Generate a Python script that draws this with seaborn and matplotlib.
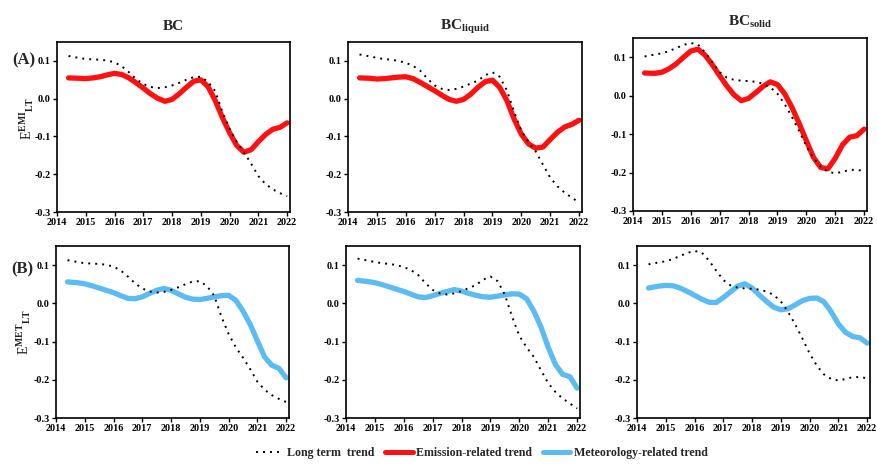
import numpy as np
import pandas as pd
import matplotlib
matplotlib.use("Agg")
import matplotlib.pyplot as plt
from matplotlib.ticker import FormatStrFormatter
from matplotlib.lines import Line2D
import seaborn as sns

# ---------------- data ----------------
years = [2014.4, 2014.75, 2015.0, 2015.25, 2015.5, 2015.75, 2016.0, 2016.25, 2016.5, 2016.75,
         2017.0, 2017.25, 2017.5, 2017.75, 2018.0, 2018.25, 2018.5, 2018.75, 2019.0, 2019.25,
         2019.5, 2019.75, 2020.0, 2020.25, 2020.5, 2020.75, 2021.0, 2021.25, 2021.5, 2021.75, 2022.0]

lt_bc = [0.113, 0.108, 0.105, 0.104, 0.103, 0.101, 0.096, 0.086, 0.070, 0.052,
         0.039, 0.031, 0.028, 0.030, 0.035, 0.042, 0.050, 0.057, 0.058, 0.045,
         0.020, -0.035, -0.080, -0.115, -0.142, -0.172, -0.205, -0.226, -0.240, -0.250, -0.258]
emi_bc = [0.055, 0.054, 0.053, 0.055, 0.058, 0.063, 0.067, 0.064, 0.055, 0.042,
          0.028, 0.013, 0.001, -0.007, -0.002, 0.013, 0.030, 0.046, 0.050, 0.032,
          -0.005, -0.050, -0.090, -0.124, -0.142, -0.135, -0.114, -0.095, -0.081, -0.076, -0.064]
met_bc = [0.056, 0.054, 0.051, 0.046, 0.040, 0.034, 0.028, 0.020, 0.013, 0.012,
          0.017, 0.026, 0.034, 0.039, 0.034, 0.025, 0.016, 0.011, 0.010, 0.013,
          0.017, 0.020, 0.021, 0.008, -0.020, -0.055, -0.098, -0.140, -0.162, -0.170, -0.195]

lt_liq = [0.117, 0.112, 0.108, 0.105, 0.103, 0.100, 0.095, 0.087, 0.074, 0.053,
          0.035, 0.026, 0.023, 0.026, 0.032, 0.040, 0.048, 0.062, 0.070, 0.058,
          0.022, -0.035, -0.085, -0.115, -0.140, -0.175, -0.209, -0.232, -0.249, -0.262, -0.275]
emi_liq = [0.055, 0.054, 0.052, 0.053, 0.055, 0.057, 0.058, 0.053, 0.043, 0.032,
           0.021, 0.009, -0.002, -0.007, -0.002, 0.012, 0.030, 0.045, 0.049, 0.030,
           -0.005, -0.054, -0.094, -0.120, -0.131, -0.128, -0.108, -0.089, -0.075, -0.068, -0.057]
met_liq = [0.060, 0.057, 0.054, 0.049, 0.043, 0.037, 0.031, 0.024, 0.017, 0.015,
           0.020, 0.026, 0.031, 0.036, 0.032, 0.026, 0.021, 0.017, 0.016, 0.019,
           0.022, 0.025, 0.024, 0.012, -0.020, -0.062, -0.115, -0.160, -0.186, -0.192, -0.222]

lt_sol = [0.102, 0.107, 0.110, 0.116, 0.124, 0.132, 0.137, 0.133, 0.112, 0.086,
          0.061, 0.047, 0.041, 0.039, 0.038, 0.036, 0.031, 0.022, 0.005, -0.022,
          -0.055, -0.092, -0.131, -0.163, -0.186, -0.198, -0.202, -0.198, -0.193, -0.193, -0.196]
emi_sol = [0.059, 0.058, 0.061, 0.070, 0.083, 0.100, 0.116, 0.121, 0.105, 0.080,
           0.052, 0.025, 0.002, -0.013, -0.007, 0.008, 0.024, 0.036, 0.029, 0.005,
           -0.030, -0.072, -0.117, -0.161, -0.187, -0.190, -0.163, -0.128, -0.108, -0.104, -0.087]
met_sol = [0.040, 0.045, 0.047, 0.046, 0.040, 0.031, 0.021, 0.011, 0.003, 0.002,
           0.015, 0.030, 0.045, 0.051, 0.040, 0.022, 0.005, -0.010, -0.017, -0.014,
           -0.004, 0.007, 0.013, 0.014, 0.004, -0.022, -0.054, -0.076, -0.087, -0.090, -0.104]

col_titles = ["BC", r"BC$_{\mathbf{liquid}}$", r"BC$_{\mathbf{solid}}$"]
row_labels = ["(A)", "(B)"]
row_ylabels = [r"E$^{\mathrm{EMI}}$$_{\mathrm{LT}}$", r"E$^{\mathrm{MET}}$$_{\mathrm{LT}}$"]
xticks = [2014, 2015, 2016, 2017, 2018, 2019, 2020, 2021, 2022]
yticks = [-0.3, -0.2, -0.1, 0.0, 0.1]
legend_labels = ["Long term  trend", "Emission-related trend", "Meteorology-related trend"]

lt_all = [lt_bc, lt_liq, lt_sol]
emi_all = [emi_bc, emi_liq, emi_sol]
met_all = [met_bc, met_liq, met_sol]

# ---------------- style ----------------
sns.set_style("ticks")
plt.rcParams['font.family'] = ['Liberation Serif', 'DejaVu Serif']
plt.rcParams['font.weight'] = 'bold'
plt.rcParams['mathtext.fontset'] = 'custom'
plt.rcParams['mathtext.rm'] = 'Liberation Serif:bold'
plt.rcParams['mathtext.bf'] = 'Liberation Serif:bold'
plt.rcParams['mathtext.it'] = 'Liberation Serif:bold:italic'
plt.rcParams['axes.unicode_minus'] = False

RED = "#ff1010"
BLUE = "#5bbcf4"

W, H = 878, 466
fig = plt.figure(figsize=(W / 100, H / 100), dpi=100)

# pixel boxes: left, right, top, bottom
boxes = [
    [(57, 290, 42, 212), (348, 582, 42, 212), (633, 867, 38, 211)],
    [(56, 289, 246, 418), (346, 580, 246, 418), (637, 870, 246, 418)],
]
ylabel_pos = [(-0.092, 0.55), (-0.10, 0.50)]

for r in range(2):
    for c in range(3):
        l, rr, t, b = boxes[r][c]
        ax = fig.add_axes([l / W, 1 - b / H, (rr - l) / W, (b - t) / H])
        df = pd.DataFrame({"year": years, "lt": lt_all[c],
                           "comp": emi_all[c] if r == 0 else met_all[c]})
        sns.lineplot(data=df, x="year", y="comp", ax=ax, color=RED if r == 0 else BLUE,
                     lw=3.8, legend=False, zorder=2, solid_capstyle='round')
        sns.lineplot(data=df, x="year", y="lt", ax=ax, color="black", lw=1.4,
                     linestyle=(0, (1, 2.6)), legend=False, zorder=3)
        ax.set_xlim(2014, 2022.1)
        ax.set_ylim(-0.3, 0.15)
        ax.set_xticks(xticks)
        ax.set_yticks(yticks)
        ax.yaxis.set_major_formatter(FormatStrFormatter('%.1f'))
        ax.set_xticklabels([str(v) for v in xticks])
        ax.tick_params(direction='out', length=3, width=1, labelsize=7.3, pad=1.5, colors='black')
        for lab in ax.get_xticklabels() + ax.get_yticklabels():
            lab.set_fontweight('bold')
        for s in ax.spines.values():
            s.set_linewidth(1.2)
            s.set_color('black')
            s.set_visible(True)
        ax.set_xlabel("")
        if c == 0:
            ax.set_ylabel(row_ylabels[r], fontsize=10, color='#222222')
            ax.yaxis.set_label_coords(*ylabel_pos[r])
        else:
            ax.set_ylabel("")
        if r == 0:
            ax.set_title(col_titles[c], fontsize=11, fontweight='bold', pad=9)

fig.text(24 / W, 1 - 60 / H, row_labels[0], fontsize=12, fontweight='bold', ha='center', va='center')
fig.text(22 / W, 1 - 269 / H, row_labels[1], fontsize=12, fontweight='bold', ha='center', va='center')

handles = [
    Line2D([], [], color='black', lw=1.4, linestyle=(0, (1, 2.6))),
    Line2D([], [], color=RED, lw=3.6),
    Line2D([], [], color=BLUE, lw=3.6),
]
fig.legend(handles, legend_labels, loc='center', bbox_to_anchor=(482 / W, 1 - 453 / H),
           ncol=3, frameon=False, handlelength=2.3, handletextpad=0.3,
           columnspacing=0.9, prop={'weight': 'bold', 'size': 8.6})

fig.savefig("out.png", dpi=100)
